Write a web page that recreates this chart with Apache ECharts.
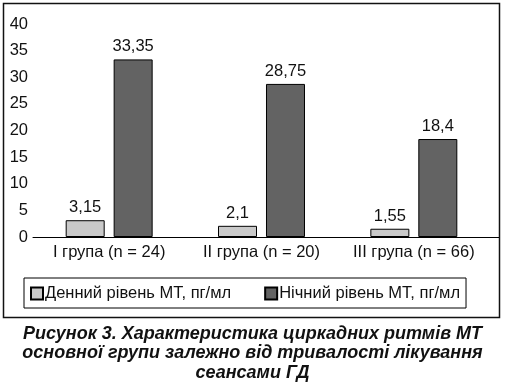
<!DOCTYPE html>
<html><head><meta charset="utf-8">
<script src="https://cdn.jsdelivr.net/npm/echarts@6/dist/echarts.min.js"></script>
<style>html,body{margin:0;padding:0;background:#fff}#c{width:505px;height:386px}</style>
</head><body><div id="c"></div>
<script>
const categories = ['I група (n = 24)', 'II група (n = 20)', 'III група (n = 66)'];
const dayValues = [3.15, 2.1, 1.55];
const nightValues = [33.35, 28.75, 18.4];
const seriesNames = ['Денний рівень МТ, пг/мл', 'Нічний рівень МТ, пг/мл'];
const captionLines = ['Рисунок 3. Характеристика циркадних ритмів МТ', 'основної групи залежно від тривалості лікування', 'сеансами ГД'];

const FONT = 'Liberation Sans, Arial, sans-serif';
const FS = 16.5;
const chart = echarts.init(document.getElementById('c'), null, {renderer: 'canvas'});
const fmt = p => String(p.value).replace('.', ',');
const captionGraphics = captionLines.map((t, i) => ({
  type: 'text', left: 'center', top: 325 + i * 19.5, silent: true,
  style: {text: t, font: 'italic bold 18px ' + FONT, fill: '#111'}
}));
chart.setOption({
  animation: false,
  textStyle: {fontFamily: FONT},
  grid: {left: 33, right: 15, top: 24, bottom: 149, containLabel: false},
  xAxis: {
    type: 'category', data: categories,
    axisTick: {show: false},
    axisLine: {lineStyle: {color: '#000', width: 1}},
    axisLabel: {color: '#111', fontSize: FS, fontFamily: FONT, margin: 7, interval: 0}
  },
  yAxis: {
    type: 'value', min: 0, max: 40, interval: 5,
    axisLine: {show: false}, axisTick: {show: false}, splitLine: {show: false},
    axisLabel: {color: '#111', fontSize: FS, fontFamily: FONT, margin: 5}
  },
  legend: {
    data: seriesNames, left: 24, top: 278, icon: 'rect',
    padding: [7, 6, 6, 6], itemGap: 33, itemWidth: 12, itemHeight: 12,
    borderColor: '#000', borderWidth: 1,
    textStyle: {color: '#111', fontSize: FS, fontFamily: FONT, padding: [0, 0, 0, -3]}
  },
  series: [
    {name: seriesNames[0], type: 'bar', data: dayValues, barWidth: 39, barGap: '23%',
     itemStyle: {color: '#c9c9c9', borderColor: '#000', borderWidth: 1},
     label: {show: true, position: 'top', distance: 4, color: '#111', fontSize: FS, fontFamily: FONT, formatter: fmt}},
    {name: seriesNames[1], type: 'bar', data: nightValues, barWidth: 39,
     itemStyle: {color: '#636363', borderColor: '#000', borderWidth: 1},
     label: {show: true, position: 'top', distance: 4, color: '#111', fontSize: FS, fontFamily: FONT, formatter: fmt}}
  ],
  graphic: [
    {type: 'rect', shape: {x: 3.5, y: 3.5, width: 496, height: 314}, style: {fill: null, stroke: '#111', lineWidth: 1.5}, silent: true, z: -1},
    {type: 'line', shape: {x1: 490, y1: 237.5, x2: 499, y2: 237.5}, style: {stroke: '#000', lineWidth: 1}, silent: true}
  ].concat(captionGraphics)
});
</script></body></html>
